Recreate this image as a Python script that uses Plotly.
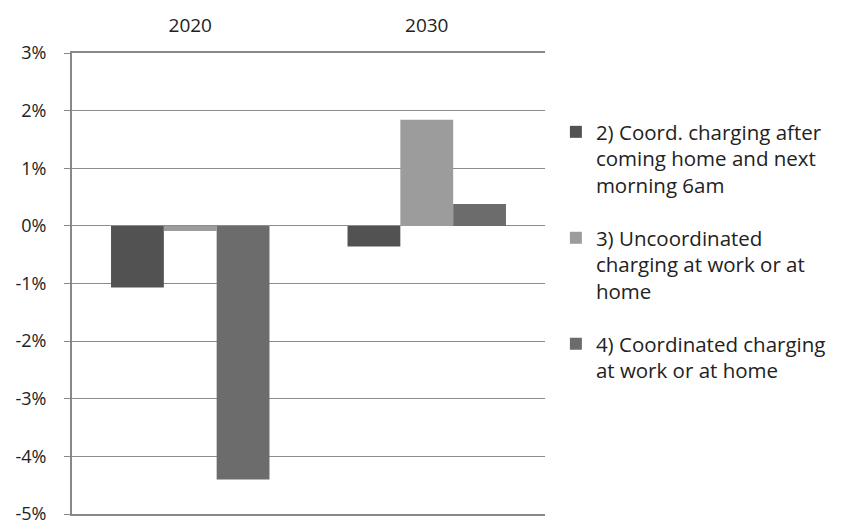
import plotly.graph_objects as go

years = ["2020", "2030"]
series_names = [
    "2) Coord. charging after<br>coming home and next<br>morning 6am",
    "3) Uncoordinated<br>charging at work or at<br>home",
    "4) Coordinated charging<br>at work or at home",
]
s2 = [-1.07, -0.36]
s3 = [-0.09, 1.84]
s4 = [-4.40, 0.38]
colors = ["#525252", "#9c9c9c", "#6c6c6c"]
y_ticks = [3, 2, 1, 0, -1, -2, -3, -4, -5]
y_tick_labels = ["3%", "2%", "1%", "0%", "-1%", "-2%", "-3%", "-4%", "-5%"]

fig = go.Figure()
for i, (name, vals) in enumerate(zip(series_names, [s2, s3, s4])):
    fig.add_trace(go.Bar(
        x=years, y=vals, name=name, legendgroup=f"g{i}",
        marker=dict(color=colors[i], line=dict(width=0)),
    ))

font_family = "Open Sans, Lato, sans-serif"
fig.update_layout(
    width=860, height=529,
    margin=dict(l=72, r=315, t=53, b=15),
    paper_bgcolor="white", plot_bgcolor="white",
    barmode="group", bargap=0.33, bargroupgap=0,
    font=dict(family=font_family, size=16, color="#222"),
    legend=dict(
        x=1.023, xanchor="left", y=0.872, yanchor="top", valign="top",
        font=dict(family=font_family, size=20.5, color="#222"),
        tracegroupgap=23, itemsizing="constant",
    ),
    xaxis=dict(
        side="top", showgrid=False, showline=True, mirror=True,
        linecolor="#888", linewidth=2, ticks="", ticklabelstandoff=11,
        tickfont=dict(size=19), automargin=False,
    ),
    yaxis=dict(
        range=[-5, 3], tickvals=y_ticks, ticktext=y_tick_labels,
        showgrid=True, gridcolor="#8c8c8c", gridwidth=1,
        showline=True, linecolor="#888", linewidth=2,
        ticks="outside", ticklen=6, tickcolor="#888", ticklabelstandoff=14,
        ticklabeloverflow="allow",
        zeroline=False, tickfont=dict(size=18), automargin=False,
    ),
)

fig.write_html(
    "out.html",
    config={"displayModeBar": False},
    post_script="document.body.style.margin='0';document.body.style.overflow='hidden';",
)
